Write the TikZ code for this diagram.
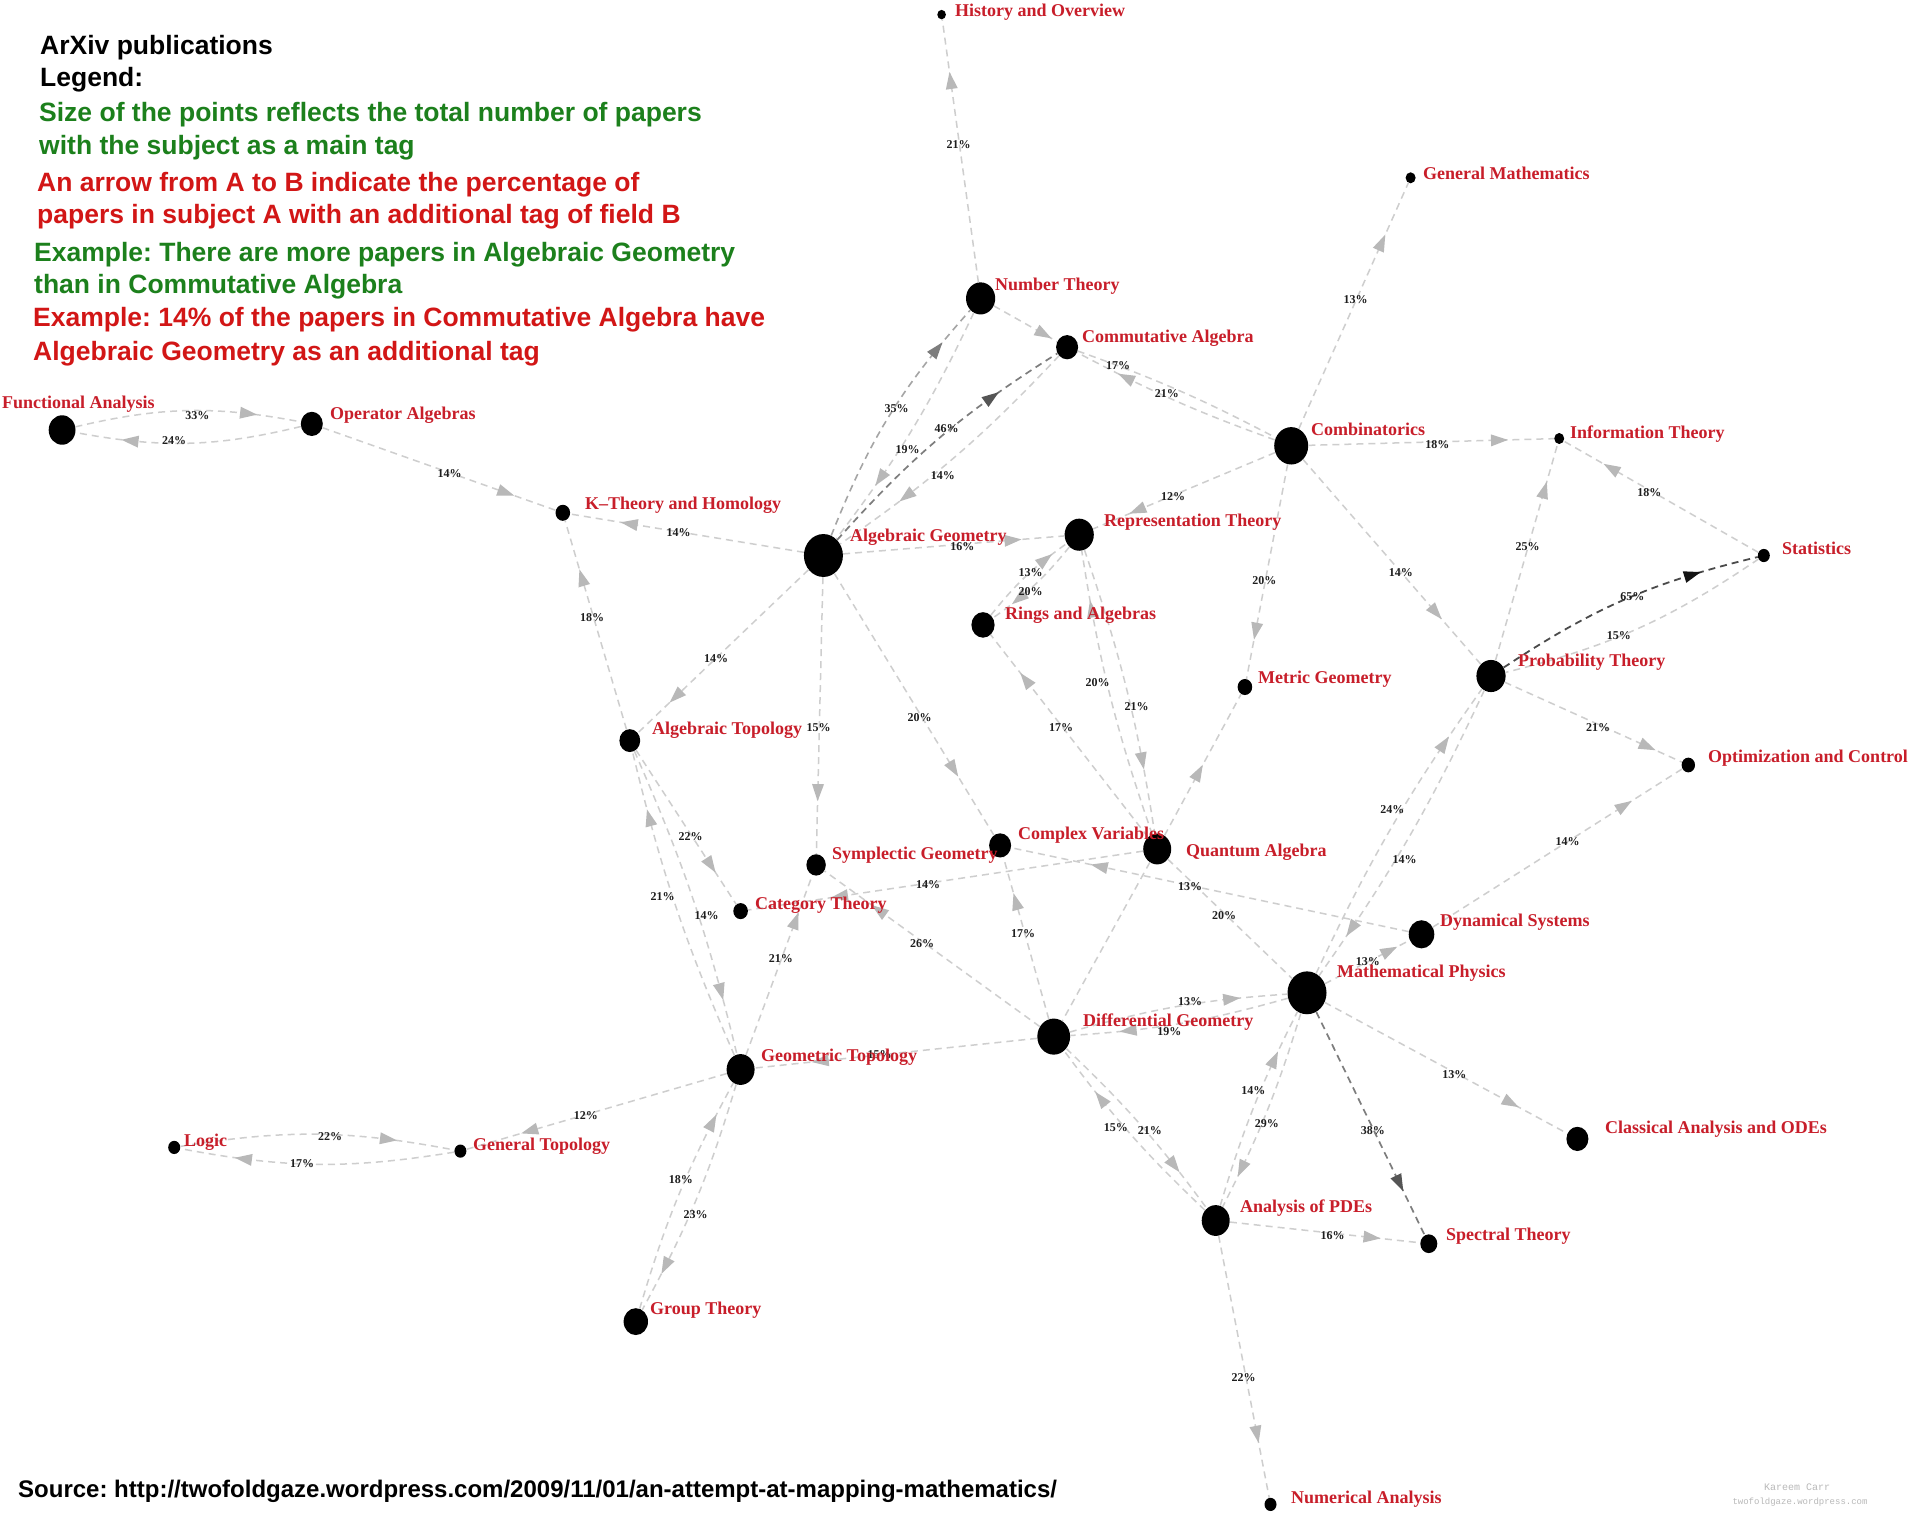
\documentclass[tikz,border=0pt]{standalone}
\usepackage{fontspec}
\setmainfont{Liberation Serif}
\newfontfamily\legfont{Liberation Sans}
\newfontfamily\wmfont{Liberation Mono}
\usetikzlibrary{shapes.geometric,decorations.markings}
\frenchspacing
\definecolor{labred}{RGB}{200,30,42}
\definecolor{leggreen}{RGB}{28,128,28}
\definecolor{legred}{RGB}{210,22,22}
\definecolor{lline}{RGB}{206,206,206}
\definecolor{ltip}{RGB}{184,184,184}
\definecolor{mline}{RGB}{165,165,165}
\definecolor{mtip}{RGB}{125,125,125}
\definecolor{dline}{RGB}{125,125,125}
\definecolor{dtip}{RGB}{85,85,85}
\definecolor{kline}{RGB}{75,75,75}
\definecolor{ktip}{RGB}{20,20,20}
\definecolor{pctcol}{RGB}{30,30,30}
\definecolor{wmcol}{RGB}{185,185,185}
\tikzset{
  dot/.style={ellipse, fill=black, draw=none, inner sep=0pt,
    minimum width={2*#1}, minimum height={2.2*#1}},
  lab/.style={anchor=base west, inner sep=0pt, text=labred,
    font=\fontsize{18}{20}\selectfont\bfseries},
  pct/.style={inner sep=0pt, text=pctcol,
    font=\fontsize{12}{13}\selectfont\bfseries},
  leg/.style={anchor=base west, inner sep=0pt,
    font=\legfont\fontsize{26.5}{30}\selectfont\bfseries},
  con/.style={draw=lline, line width=1.5pt, dash pattern=on 7pt off 5pt},
  conm/.style={draw=mline, line width=1.6pt, dash pattern=on 7pt off 5pt},
  cond/.style={draw=dline, line width=1.7pt, dash pattern=on 7pt off 5pt},
  conk/.style={draw=kline, line width=1.8pt, dash pattern=on 7pt off 5pt},
  tipc/.style 2 args={postaction={decorate, decoration={markings,
    mark=at position #1 with {\fill[#2] (-9pt,-6pt) -- (8pt,0pt) -- (-9pt,6pt) -- cycle;}}}},
  tip/.style={tipc={#1}{ltip}},
  tipm/.style={tipc={#1}{mtip}},
  tipd/.style={tipc={#1}{dtip}},
  tipk/.style={tipc={#1}{ktip}},
}
\begin{document}
\begin{tikzpicture}[x=1pt,y=-1pt]
\fill[white] (0,0) rectangle (1910,1513);
\useasboundingbox (0,0) rectangle (1910,1513);

% ---------- legend ----------
\node[leg, text=black]    (g1)  at (40,54)  {ArXiv publications};
\node[leg, text=black]    (g2)  at (40,86)  {Legend:};
\node[leg, text=leggreen] (g3)  at (39,121) {Size of the points reflects the total number of papers};
\node[leg, text=leggreen] (g4)  at (39,154) {with the subject as a main tag};
\node[leg, text=legred]   (g5)  at (37,191) {An arrow from A to B indicate the percentage of};
\node[leg, text=legred]   (g6)  at (37,223) {papers in subject A with an additional tag of field B};
\node[leg, text=leggreen] (g7)  at (34,261) {Example: There are more papers in Algebraic Geometry};
\node[leg, text=leggreen] (g8)  at (34,293) {than in Commutative Algebra};
\node[leg, text=legred]   (g9)  at (33,326) {Example: 14\% of the papers in Commutative Algebra have};
\node[leg, text=legred]   (g10) at (33,360) {Algebraic Geometry as an additional tag};

% ---------- nodes (dots) ----------
\node[dot=4.3]  (HO)    at (941.6,14.6)  {};
\node[dot=5]    (GM)    at (1410.6,177.8) {};
\node[dot=14.6] (NT)    at (980.6,298.4) {};
\node[dot=11]   (CA)    at (1067.1,347.2) {};
\node[dot=17]   (Comb)  at (1291.2,445.8) {};
\node[dot=5]    (IT)    at (1559.2,438.5) {};
\node[dot=13.4] (FA)    at (62.1,430.0) {};
\node[dot=11]   (OA)    at (311.8,423.9) {};
\node[dot=7.3]  (KT)    at (562.8,512.8) {};
\node[dot=19.5] (AG)    at (823.4,555.5) {};
\node[dot=14.6] (RT)    at (1079.2,534.7) {};
\node[dot=6]    (Stat)  at (1763.8,555.5) {};
\node[dot=11.6] (RA)    at (983.0,624.9) {};
\node[dot=14.6] (PT)    at (1491.0,676.0) {};
\node[dot=7.3]  (MG)    at (1244.9,687.0) {};
\node[dot=10.4] (AT)    at (629.8,740.6) {};
\node[dot=6.7]  (OC)    at (1688.3,765.0) {};
\node[dot=11]   (CV)    at (1000.1,845.4) {};
\node[dot=14]   (QA)    at (1157.2,849.0) {};
\node[dot=9.7]  (SG)    at (816.1,864.9) {};
\node[dot=7.3]  (CT)    at (740.6,911.1) {};
\node[dot=12.8] (DS)    at (1421.5,934.3) {};
\node[dot=19.5] (MP)    at (1307.0,992.8) {};
\node[dot=16.4] (DG)    at (1053.7,1036.6) {};
\node[dot=14]   (GT)    at (740.6,1069.5) {};
\node[dot=11]   (CAODE) at (1577.4,1138.9) {};
\node[dot=6]    (Logic) at (174.2,1147.4) {};
\node[dot=6]    (GenT)  at (460.4,1151.1) {};
\node[dot=14]   (PDE)   at (1215.7,1220.5) {};
\node[dot=8.5]  (ST)    at (1428.8,1243.7) {};
\node[dot=12.2] (GrT)   at (635.8,1321.6) {};
\node[dot=6]    (NA)    at (1270.5,1504.4) {};

% ---------- connectors ----------
\draw[con,tip=0.77] (NT) to (HO);
\draw[con,tip=0.76] (Comb) to (GM);
\draw[con,tip=0.8] (NT) to (CA);
\draw[con,tip=0.75] (Comb) to[bend left=4] (CA);
\draw[con] (CA) to[bend left=4] (Comb);
\draw[con,tip=0.77] (FA) to[bend left=12] (OA);
\draw[con,tip=0.76] (OA) to[bend left=12] (FA);
\draw[con,tip=0.79] (OA) to (KT);
\draw[con,tip=0.75] (AG) to (KT);
\draw[con,tip=0.73] (AT) to (KT);
\draw[conm,tipm=0.81] (AG) to[bend left=10] (NT);
\draw[con,tip=0.72] (NT) to[bend left=6] (AG);
\draw[cond,tipd=0.73] (AG) to[bend left=8] (CA);
\draw[con,tip=0.72] (CA) to[bend left=6] (AG);
\draw[con,tip=0.77] (AG) to (RT);
\draw[con,tip=0.76] (Comb) to (RT);
\draw[con,tip=0.78] (Comb) to (IT);
\draw[con,tip=0.76] (Stat) to (IT);
\draw[con,tip=0.79] (PT) to (IT);
\draw[con,tip=0.75] (Comb) to (PT);
\draw[con,tip=0.78] (Comb) to (MG);
\draw[conk,tipk=0.76] (PT) to[bend left=10] (Stat);
\draw[con] (Stat) to[bend left=10] (PT);
\draw[con,tip=0.81] (PT) to (OC);
\draw[con,tip=0.77] (DS) to (OC);
\draw[con,tip=0.8] (MP) to[bend left=5] (PT);
\draw[con,tip=0.83] (PT) to[bend left=5] (MP);
\draw[con,tip=0.75] (RA) to[bend left=8] (RT);
\draw[con,tip=0.7] (RT) to[bend left=8] (RA);
\draw[con,tip=0.8] (QA) to[bend left=5] (RT);
\draw[con,tip=0.75] (RT) to[bend left=5] (QA);
\draw[con,tip=0.78] (QA) to (RA);
\draw[con,tip=0.45] (QA) to (MG);
\draw[con,tip=0.75] (AG) to (CV);
\draw[con,tip=0.78] (AG) to (SG);
\draw[con,tip=0.78] (AG) to (AT);
\draw[con,tip=0.75] (AT) to (CT);
\draw[con,tip=0.8] (AT) to[bend left=5] (GT);
\draw[con,tip=0.79] (GT) to[bend left=5] (AT);
\draw[con,tip=0.75] (GT) to (SG);
\draw[con,tip=0.75] (DG) to (SG);
\draw[con,tip=0.77] (QA) to (CT);
\draw[con,tip=0.78] (DS) to (CV);
\draw[con] (QA) to (MP);
\draw[con,tip=0.73] (DG) to (CV);
\draw[con] (QA) to (DG);
\draw[con,tip=0.75] (DG) to[bend left=6] (MP);
\draw[con,tip=0.74] (MP) to[bend left=6] (DG);
\draw[con,tip=0.77] (DG) to (GT);
\draw[con,tip=0.76] (GT) to (GenT);
\draw[con,tip=0.76] (Logic) to[bend left=10] (GenT);
\draw[con,tip=0.77] (GenT) to[bend left=10] (Logic);
\draw[con,tip=0.8] (GT) to[bend left=6] (GrT);
\draw[con,tip=0.82] (GrT) to[bend left=6] (GT);
\draw[con,tip=0.75] (DG) to[bend left=5] (PDE);
\draw[con,tip=0.72] (PDE) to[bend left=5] (DG);
\draw[con,tip=0.8] (MP) to[bend left=5] (PDE);
\draw[con,tip=0.75] (PDE) to[bend left=5] (MP);
\draw[cond,tipd=0.77] (MP) to (ST);
\draw[con,tip=0.75] (PDE) to (ST);
\draw[con,tip=0.77] (MP) to (CAODE);
\draw[con,tip=0.76] (PDE) to (NA);
\draw[con,tip=0.77] (MP) to (DS);

% ---------- percentages ----------
\node[pct] (q1)  at (958.6,145.0) {21\%};
\node[pct] (q2)  at (1355.7,299.7) {13\%};
\node[pct] (q3)  at (197.3,415.4) {33\%};
\node[pct] (q4)  at (174.2,441.0) {24\%};
\node[pct] (q5)  at (449.5,473.8) {14\%};
\node[pct] (q6)  at (678.5,532.3) {14\%};
\node[pct] (q7)  at (592.0,617.6) {18\%};
\node[pct] (q8)  at (896.5,408.1) {35\%};
\node[pct] (q9)  at (946.5,428.8) {46\%};
\node[pct] (q10) at (907.5,449.5) {19\%};
\node[pct] (q11) at (942.8,475.1) {14\%};
\node[pct] (q12) at (1118.2,365.4) {17\%};
\node[pct] (q13) at (1166.9,393.5) {21\%};
\node[pct] (q14) at (1173.0,497.0) {12\%};
\node[pct] (q15) at (962.3,546.9) {16\%};
\node[pct] (q16) at (1437.4,444.6) {18\%};
\node[pct] (q17) at (1649.3,492.1) {18\%};
\node[pct] (q18) at (1527.5,546.9) {25\%};
\node[pct] (q19) at (1400.8,572.5) {14\%};
\node[pct] (q20) at (1264.4,581.0) {20\%};
\node[pct] (q21) at (1632.3,596.9) {65\%};
\node[pct] (q22) at (1618.9,635.8) {15\%};
\node[pct] (q23) at (1030.5,572.5) {13\%};
\node[pct] (q24) at (1030.5,592.0) {20\%};
\node[pct] (q25) at (1097.5,682.1) {20\%};
\node[pct] (q26) at (1136.5,706.5) {21\%};
\node[pct] (q27) at (1061.0,727.2) {17\%};
\node[pct] (q28) at (716.2,659.0) {14\%};
\node[pct] (q29) at (818.6,727.2) {15\%};
\node[pct] (q30) at (919.7,717.5) {20\%};
\node[pct] (q31) at (1598.1,727.2) {21\%};
\node[pct] (q32) at (1392.3,810.0) {24\%};
\node[pct] (q33) at (1567.7,841.7) {14\%};
\node[pct] (q34) at (690.7,836.8) {22\%};
\node[pct] (q35) at (1404.5,860.0) {14\%};
\node[pct] (q36) at (928.2,884.3) {14\%};
\node[pct] (q37) at (1190.1,886.8) {13\%};
\node[pct] (q38) at (662.6,896.5) {21\%};
\node[pct] (q39) at (706.5,916.0) {14\%};
\node[pct] (q40) at (1224.2,916.0) {20\%};
\node[pct] (q41) at (922.1,944.0) {26\%};
\node[pct] (q42) at (1023.2,933.1) {17\%};
\node[pct] (q43) at (780.8,958.6) {21\%};
\node[pct] (q44) at (1367.9,961.1) {13\%};
\node[pct] (q45) at (1190.1,1001.3) {13\%};
\node[pct] (q46) at (1169.4,1031.7) {19\%};
\node[pct] (q47) at (1454.4,1074.4) {13\%};
\node[pct] (q48) at (1253.4,1090.2) {14\%};
\node[pct] (q49) at (585.9,1115.8) {12\%};
\node[pct] (q50) at (1266.8,1123.1) {29\%};
\node[pct] (q51) at (1115.8,1128.0) {15\%};
\node[pct] (q52) at (1149.9,1130.4) {21\%};
\node[pct] (q53) at (1372.8,1130.4) {38\%};
\node[pct] (q54) at (330.1,1136.5) {22\%};
\node[pct] (q55) at (302.1,1163.3) {17\%};
\node[pct] (q56) at (680.9,1179.1) {18\%};
\node[pct] (q57) at (695.5,1214.4) {23\%};
\node[pct] (q58) at (1332.6,1235.2) {16\%};
\node[pct] (q59) at (1243.7,1377.7) {22\%};
\node[pct] (q60) at (879.5,1054.9) {15\%};

% ---------- node labels ----------
\node[lab] (tHO)    at (955,16)    {History and Overview};
\node[lab] (tGM)    at (1423,179)  {General Mathematics};
\node[lab] (tNT)    at (995,290)   {Number Theory};
\node[lab] (tCA)    at (1082,342)  {Commutative Algebra};
\node[lab] (tComb)  at (1311,435)  {Combinatorics};
\node[lab] (tIT)    at (1570,438)  {Information Theory};
\node[lab] (tFA)    at (2,408)     {Functional Analysis};
\node[lab] (tOA)    at (330,419)   {Operator Algebras};
\node[lab] (tKT)    at (585,509)   {K--Theory and Homology};
\node[lab] (tAG)    at (850,541)   {Algebraic Geometry};
\node[lab] (tRT)    at (1104,526)  {Representation Theory};
\node[lab] (tStat)  at (1782,554)  {Statistics};
\node[lab] (tRA)    at (1005,619)  {Rings and Algebras};
\node[lab] (tPT)    at (1518,666)  {Probability Theory};
\node[lab] (tMG)    at (1258,683)  {Metric Geometry};
\node[lab] (tAT)    at (652,734)   {Algebraic Topology};
\node[lab] (tOC)    at (1708,762)  {Optimization and Control};
\node[lab] (tCV)    at (1018,839)  {Complex Variables};
\node[lab] (tQA)    at (1186,856)  {Quantum Algebra};
\node[lab] (tSG)    at (832,859)   {Symplectic Geometry};
\node[lab] (tCT)    at (755,909)   {Category Theory};
\node[lab] (tDS)    at (1440,926)  {Dynamical Systems};
\node[lab] (tMP)    at (1337,977)  {Mathematical Physics};
\node[lab] (tDG)    at (1083,1026) {Differential Geometry};
\node[lab] (tGT)    at (761,1061)  {Geometric Topology};
\node[lab] (tCAODE) at (1605,1133) {Classical Analysis and ODEs};
\node[lab] (tLogic) at (184,1146)  {Logic};
\node[lab] (tGenT)  at (473,1150)  {General Topology};
\node[lab] (tPDE)   at (1240,1212) {Analysis of PDEs};
\node[lab] (tST)    at (1446,1240) {Spectral Theory};
\node[lab] (tGrT)   at (650,1314)  {Group Theory};
\node[lab] (tNA)    at (1291,1503) {Numerical Analysis};

% ---------- source and watermark ----------
\node[leg, text=black, font=\legfont\fontsize{24}{28}\selectfont\bfseries] (src) at (18,1497)
  {Source: http://twofoldgaze.wordpress.com/2009/11/01/an-attempt-at-mapping-mathematics/};
\node[inner sep=0pt, text=wmcol, font=\wmfont\fontsize{10}{11}\selectfont] (wm1) at (1797,1487) {Kareem Carr};
\node[inner sep=0pt, text=wmcol, font=\wmfont\fontsize{9}{11}\selectfont] (wm2) at (1800,1502) {twofoldgaze.wordpress.com};
\end{tikzpicture}
\end{document}
